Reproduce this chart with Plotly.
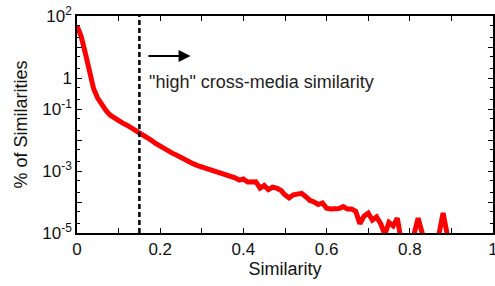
import plotly.graph_objects as go

similarity = [round(i * 0.01, 2) for i in range(90)]
percent = [
    48, 22, 6.3, 1.4, 0.45, 0.22, 0.135, 0.088, 0.063, 0.050,
    0.042, 0.035, 0.030, 0.025, 0.021, 0.018, 0.015, 0.012, 0.0095, 0.0076,
    0.0062, 0.0051, 0.0044, 0.0037, 0.0032, 0.0027, 0.0022, 0.0019, 0.0017, 0.0015,
    0.00135, 0.00123, 0.00112, 0.00107, 0.00095, 0.00085, 0.00078, 0.00069, 0.00060, 0.00051,
    0.00055, 0.00044, 0.00043, 0.00045, 0.00028, 0.00034, 0.00025, 0.00030, 0.00028, 0.00024,
    0.00017, 0.000135, 0.00017, 0.00018, 0.00019, 0.000148, 0.000112, 0.000100, 0.000083, 0.000093,
    0.000063, 0.000060, 0.000060, 0.000062, 0.000071, 0.000059, 0.000059, 0.000050, 0.000020, 0.000035,
    0.000044, 0.000026, 0.000033, 0.000020, 0.0000089, 0.000022, 0.000017, 0.000030, 0.000005, 0.0000032,
    0.000005, 0.0000089, 0.000030, 0.0000079, 0.0000032, 0.0000032, 0.0000032, 0.0000089, 0.000044, 0.0000089,
]

threshold = 0.15
x_tick_vals = [0, 0.1, 0.2, 0.3, 0.4, 0.5, 0.6, 0.7, 0.8, 0.9, 1]
x_tick_text = ["0", "", "0.2", "", "0.4", "", "0.6", "", "0.8", "", "1"]
y_tick_vals = [1e-5, 1e-4, 1e-3, 1e-2, 1e-1, 1, 1e1, 1e2]
y_tick_text = ["10<sup>-5</sup>", "", "10<sup>-3</sup>", "", "10<sup>-1</sup>", "1", "", "10<sup>2</sup>"]
annotation_text = '"high" cross-media similarity'

FONT = "Liberation Sans, Arial, sans-serif"

fig = go.Figure()
fig.add_trace(go.Scatter(
    x=similarity, y=percent, mode="lines",
    line=dict(color="#ff0000", width=5),
    showlegend=False, hoverinfo="skip",
))

fig.add_shape(type="line", xref="x", yref="paper", x0=threshold, x1=threshold, y0=0, y1=1,
              line=dict(color="black", width=2.5, dash="5px,3px"))

fig.add_annotation(x=0.273, y=0.71, xref="x", yref="y", ax=0.168, ay=0.71, axref="x", ayref="y",
                   showarrow=True, arrowhead=2, arrowsize=1.2, arrowwidth=2, arrowcolor="black", text="")
fig.add_annotation(x=0.168, y=-0.13, xref="x", yref="y", text=annotation_text, showarrow=False,
                   xanchor="left", yanchor="middle", font=dict(family=FONT, size=18, color="#222"))

axis_common = dict(showline=True, linecolor="black", linewidth=1.5, mirror="ticks",
                   ticks="inside", tickcolor="black", tickwidth=1.2, showgrid=False, zeroline=False,
                   automargin=False, ticklabeloverflow="allow",
                   tickfont=dict(family=FONT, size=17, color="#111"))

fig.update_xaxes(range=[0, 1], tickmode="array", tickvals=x_tick_vals, ticktext=x_tick_text,
                 ticklen=5, title=dict(text="Similarity", font=dict(family=FONT, size=18, color="#111"), standoff=4),
                 **axis_common)
fig.update_yaxes(type="log", range=[-5, 2], tickmode="array", tickvals=y_tick_vals, ticktext=y_tick_text,
                 ticklen=5, minor=dict(ticks="inside", dtick="D2", ticklen=3, tickcolor="black", showgrid=False),
                 title=dict(text="% of Similarities", font=dict(family=FONT, size=18, color="#111"), standoff=10),
                 **axis_common)

fig.update_layout(width=495, height=286, margin=dict(l=77, r=2, t=16, b=53),
                  paper_bgcolor="white", plot_bgcolor="white")

fig.write_html("out.html", config={"displayModeBar": False},
               post_script="document.body.style.margin='0';")
